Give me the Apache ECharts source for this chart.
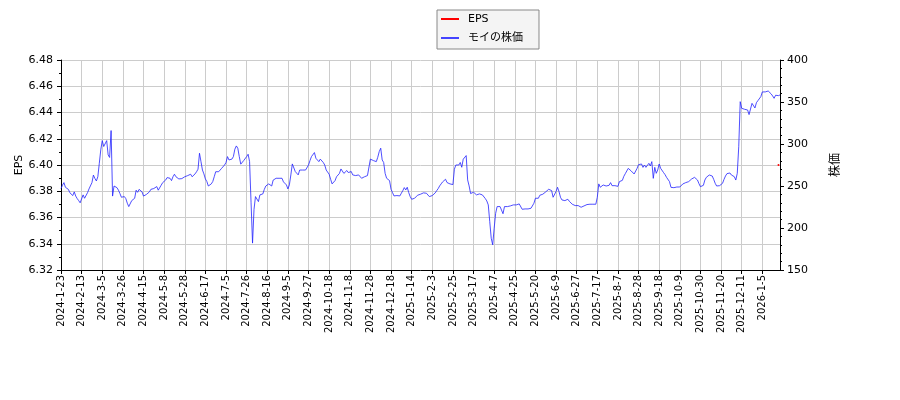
<!DOCTYPE html>
<html>
<head>
<meta charset="utf-8">
<script src="https://cdn.jsdelivr.net/npm/echarts@6/dist/echarts.min.js"></script>
<style>html,body{margin:0;padding:0;background:#fff}#c{width:900px;height:400px}</style>
</head>
<body>
<div id="c"></div>
<script>
const tickLabels = ['2024-1-23','2024-2-13','2024-3-5','2024-3-26','2024-4-15','2024-5-8','2024-5-28','2024-6-17','2024-7-5','2024-7-26','2024-8-16','2024-9-5','2024-9-27','2024-10-18','2024-11-8','2024-11-28','2024-12-18','2025-1-14','2025-2-3','2025-2-25','2025-3-17','2025-4-7','2025-4-25','2025-5-20','2025-6-9','2025-6-27','2025-7-17','2025-8-7','2025-8-28','2025-9-18','2025-10-9','2025-10-30','2025-11-20','2025-12-11','2026-1-5'];

const priceValues = [
247,251,254,248.5,247,246,242,240,238.6,243,238,235,232.6,230,229,
239.4,235.4,236,242,246.5,247,254,263,259,256,261,277,293,304,
297,298,304,287,284,316,238,250,249.3,248,245,241,236.6,
235.4,237.4,235,229.5,225.5,226.3,232.6,234,235.4,245,242.5,246,245,243,
238,239.4,240,241,243,246,247.3,247,248.5,249.3,245,244.5,251,254,
254,257,260,259.6,259.2,256.4,261,264,261,260,258.4,257,258.8,259.2,
261,261,262.4,263,264,261,263,264.4,267,270,289,279,269,264.4,
258.4,255.3,250,248,252.5,255.3,261,267,269,267,269,271,270,275,
278,285,281,280.3,282,285,293.8,297.7,295,285,276,
277,280.3,282,285,287.8,279,
230,182,222,
237.4,235.4,231.4,239.4,241.4,240.6,246,250,252,252.5,252.5,250,257,259.2,
259.2,259.2,259.2,259.2,259.2,254.9,256,251.3,246.5,251.3,263.2,276.3,274,267.2,
269,263.2,269,267.2,269,267.6,269,267.2,275,280.3,285,285,289.8,283,
281.9,279,282,281,278,275,269,267.2,264,258,252.5,252.5,256.4,261,
263.2,265,270.3,268,265,262.8,268.4,266,266,267.2,263.2,265,262.4,261,
263.2,264.4,259.2,257.2,261,259.2,262.4,264.4,282,282,280.3,278,279,284.2,
291,295,281,278,265,259.2,259.2,256.4,246.1,242.2,238.2,238.2,238.6,239.4,
238.2,241.4,244.5,248.1,245.3,248.5,242.2,237.4,234.2,234.2,235.4,236.6,239,240.2,240.2,
240.6,241.8,243,241.4,239.4,237.4,237,238.6,240.2,241.8,244.5,246.9,250.1,252.5,
254.9,254.5,258,254.1,256.4,252.5,251.3,251.7,270,275,274,275,278,272.3,
281.9,284.2,286.2,257.2,250.1,241,241.4,242.6,240.6,239.4,239.4,240.6,239.4,239.4,
237.4,235,232.2,227.5,207.6,187.8,180,199.7,217.5,225.5,226.3,225.5,226.7,
217,225.5,225.5,
225.5,227.1,226.3,227.1,227.5,227.5,227.5,228.3,228.7,227.5,222.3,222.3,222.7,223.1,
222.7,223.1,223.5,225.5,229.5,235.4,236.6,235.4,239,240.2,240.2,241.4,243,245,
246.1,245.7,244.5,236.6,238.2,243.4,248.5,243.4,236.6,233.4,231.8,232.6,231.8,234.2,
231.8,230.3,228.3,227.1,226.7,226.7,226.7,226.3,224.7,223.5,226.3,225.5,227.9,228.3,
228.3,228.3,228.3,228.3,228.3,236.6,252.5,248.5,250.1,
251.2,250.8,250,248.4,250.8,254,250.4,250.8,250.4,250.4,249.6,255.2,253.2,256.7,
261.5,264.7,266.7,271,269,267.9,265.9,264.3,265.1,271,275.4,276.2,276.2,272.2,
275,272.2,273.8,277,273.8,279,259.1,272.2,265.1,269,276.2,271,269,265.9,
263.5,260.3,258.3,255.2,248.4,250,248,248.8,248.8,249.6,248.8,250,252.4,252.4,
254,255.2,255.2,256.3,258.3,259.5,260.3,259.5,257.1,252.8,249.2,247.2,250.8,257.1,
260.3,261.5,263.1,265.1,261.9,257.9,253.2,250,250.4,250.4,249.2,253.2,257.9,261.9,
264.7,266.7,265.5,263.1,264.3,261.1,257.1,265.1,296.8,350.4,342.5,341.3,341.3,342.1,
340.5,335,337.3,348.4,350.4,342.9,349.2,351.6,351.6,356.4,362,361.5,362,361.5,
363.1,361.1,359.6,357.2,354.4,358,356.4,357.6,358.4
];

const epsValues = [6.40];

const n = priceValues.length;
const categories = [];
for (let i = 0; i < n; i++) {
  categories.push(i % 14 === 0 && tickLabels[i / 14] ? tickLabels[i / 14] : 'p' + i);
}
const epsData = new Array(n - 1 - epsValues.length).fill(null).concat(epsValues).concat([null]);

const FONT = 'DejaVu Sans, "Noto Sans CJK JP", sans-serif';
const chart = echarts.init(document.getElementById('c'));
chart.setOption({
  animation: false,
  backgroundColor: '#ffffff',
  textStyle: { fontFamily: FONT },
  legend: {
    orient: 'vertical',
    left: 437,
    top: 10,
    padding: [2, 16, 4, 4],
    itemGap: 5,
    itemWidth: 18,
    itemHeight: 2,
    icon: 'rect',
    borderColor: '#888888',
    borderWidth: 1,
    borderRadius: 0,
    backgroundColor: '#f4f4f4',
    textStyle: { fontFamily: FONT, fontSize: 11, color: '#000', lineHeight: 14, padding: [0, 0, 0, 4] },
    data: ['EPS', 'モイの株価']
  },
  grid: { left: 61, right: 120, top: 60, bottom: 130, containLabel: false },
  xAxis: {
    type: 'category',
    data: categories,
    boundaryGap: false,
    axisLine: { lineStyle: { color: '#000', width: 1 } },
    axisTick: { interval: 13, length: 4, lineStyle: { color: '#000' } },
    axisLabel: {
      interval: 13, rotate: 90, fontSize: 10, color: '#000', margin: 5, fontFamily: FONT
    },
    splitLine: { show: true, interval: 13, lineStyle: { color: '#cccccc', width: 1 } }
  },
  yAxis: [
    {
      type: 'value',
      min: 6.32, max: 6.48, interval: 0.02,
      position: 'left',
      name: 'EPS',
      nameLocation: 'middle',
      nameGap: 36,
      nameMoveOverlap: false,
      nameRotate: 90,
      nameTextStyle: { fontSize: 11, color: '#000', fontFamily: FONT },
      axisLine: { show: true, lineStyle: { color: '#000', width: 1 } },
      axisTick: { show: true, length: 4, lineStyle: { color: '#000' } },
      minorTick: { show: true, splitNumber: 2, length: 2, lineStyle: { color: '#000' } },
      axisLabel: { fontSize: 11, color: '#000', margin: 8, formatter: v => v.toFixed(2), fontFamily: FONT },
      splitLine: { show: true, lineStyle: { color: '#cccccc', width: 1 } }
    },
    {
      type: 'value',
      min: 150, max: 400, interval: 50,
      position: 'right',
      name: '株価',
      nameLocation: 'middle',
      nameGap: 50,
      nameMoveOverlap: false,
      nameRotate: 90,
      nameTextStyle: { fontSize: 12, color: '#000', fontFamily: FONT },
      axisLine: { show: true, lineStyle: { color: '#000', width: 1 } },
      axisTick: { show: true, length: 4, lineStyle: { color: '#000' } },
      minorTick: { show: true, splitNumber: 5, length: 2, lineStyle: { color: '#000' } },
      axisLabel: { fontSize: 11, color: '#000', margin: 7, fontFamily: FONT },
      splitLine: { show: false }
    }
  ],
  series: [
    {
      name: 'EPS',
      type: 'line',
      yAxisIndex: 0,
      data: epsData,
      color: '#ff0000',
      symbol: 'circle',
      symbolSize: 2,
      showSymbol: true,
      showAllSymbol: true,
      lineStyle: { width: 2, color: '#ff0000' },
      itemStyle: { color: '#ff0000' }
    },
    {
      name: 'モイの株価',
      type: 'line',
      yAxisIndex: 1,
      data: priceValues,
      color: '#4444ff',
      showSymbol: false,
      symbol: 'none',
      lineStyle: { width: 0.8, color: '#2222ff' }
    }
  ]
});
</script>
</body>
</html>
